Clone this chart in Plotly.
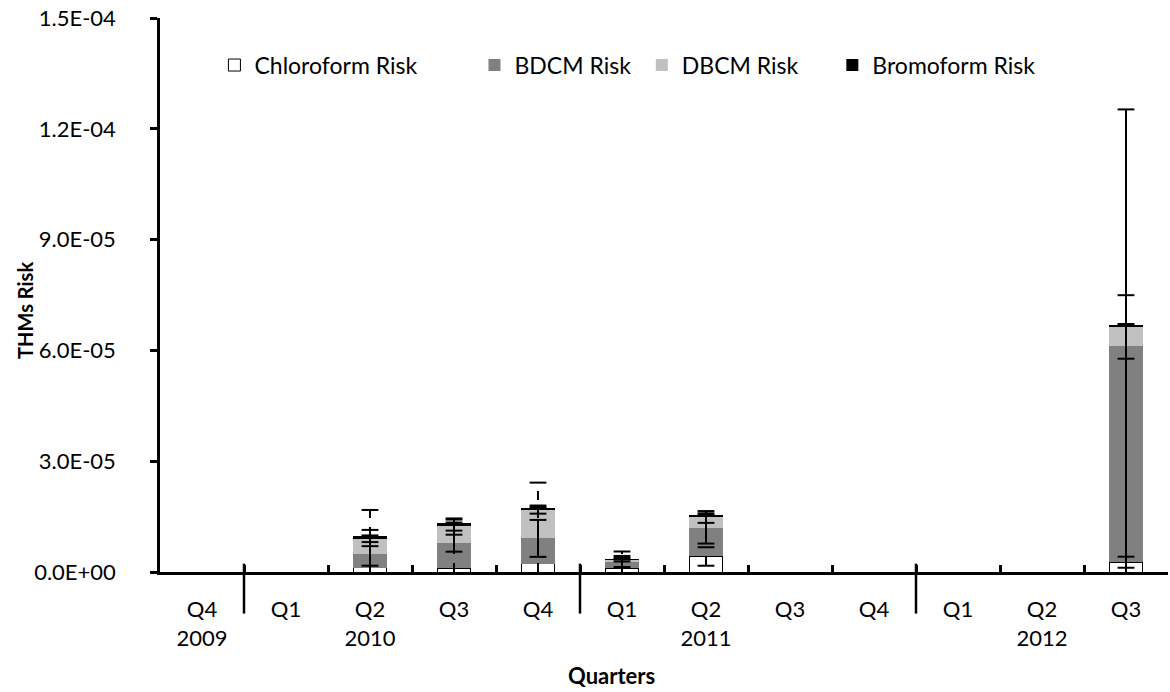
import numpy as np
import plotly.graph_objects as go

# Quarterly THM cancer-risk components (stacked), with error magnitudes
quarters = ["Q4", "Q1", "Q2", "Q3", "Q4", "Q1", "Q2", "Q3", "Q4", "Q1", "Q2", "Q3"]
years = ["2009", "", "2010", "", "", "", "2011", "", "", "", "2012", ""]

chloroform = [None, None, 1.1e-6, 1.0e-6, 2.3e-6, 0.95e-6, 4.2e-6, None, None, None, None, 2.65e-6]
bdcm = [None, None, 3.8e-6, 6.8e-6, 6.8e-6, 1.9e-6, 7.6e-6, None, None, None, None, 5.86e-5]
dbcm = [None, None, 4.3e-6, 4.9e-6, 7.8e-6, 0.5e-6, 3.1e-6, None, None, None, None, 5.1e-6]
bromoform = [None, None, 0.5e-6, 0.5e-6, 0.5e-6, 0.15e-6, 0.5e-6, None, None, None, None, 0.6e-6]

chloroform_err = [None, None, 1.57e-5, 1.35e-5, 2.19e-5, 4.6e-6, 2.5e-6, None, None, None, None, 1.5e-6]
bdcm_err = [None, None, 3.2e-6, 2.3e-6, 5.0e-6, 1.5e-6, 4.1e-6, None, None, None, None, 6.4e-5]
dbcm_err = [None, None, 2.2e-6, 1.5e-6, 1.1e-6, 0.5e-6, 1.6e-6, None, None, None, None, 8.6e-6]
bromoform_err = [None, None, 2e-7, 2e-7, 2e-7, 1e-7, 2e-7, None, None, None, None, 2e-7]

y_tickvals = [0, 3e-5, 6e-5, 9e-5, 1.2e-4, 1.5e-4]
y_ticktext = ["0.0E+00", "3.0E-05", "6.0E-05", "9.0E-05", "1.2E-04", "1.5E-04"]

FONT = "Lato"
x = np.arange(len(quarters))
tick_text = [q if not y else f"{q}<br>{y}" for q, y in zip(quarters, years)]

series = [
    ("Chloroform Risk", chloroform, chloroform_err, "white", "dash"),
    ("BDCM Risk", bdcm, bdcm_err, "#808080", "solid"),
    ("DBCM Risk", dbcm, dbcm_err, "#c0c0c0", "solid"),
    ("Bromoform Risk", bromoform, bromoform_err, "#000000", "solid"),
]
legend_x = [0.054, 0.312, 0.478, 0.667]

fig = go.Figure()
for k, (name, vals, _, color, _) in enumerate(series):
    lg = "legend" if k == 0 else f"legend{k + 1}"
    fig.add_trace(go.Bar(
        x=x, y=vals, name=name, width=0.4,
        marker=dict(color=color,
                    line=dict(color="black", width=1 if color == "white" else 0)),
        legend=lg,
    ))

# Error whiskers drawn at the top of each stacked segment
base = np.zeros(len(quarters))
for name, vals, errs, color, dash in series:
    v = np.array([np.nan if a is None else a for a in vals], dtype=float)
    e = np.array([np.nan if a is None else a for a in errs], dtype=float)
    top = base + np.nan_to_num(v)
    lx, ly, cx, cy = [], [], [], []
    for i in range(len(quarters)):
        if np.isnan(v[i]):
            continue
        hi = top[i] + e[i]
        lo = max(top[i] - e[i], 0.0)
        lx += [x[i], x[i], None]
        ly += [lo, hi, None]
        cx.append(x[i]); cy.append(hi)
        if lo > 0:
            cx.append(x[i]); cy.append(lo)
    fig.add_trace(go.Scatter(x=lx, y=ly, mode="lines", showlegend=False,
                             line=dict(color="black", width=2, dash=dash),
                             hoverinfo="skip"))
    fig.add_trace(go.Scatter(x=cx, y=cy, mode="markers", showlegend=False,
                             marker=dict(symbol="line-ew", size=12,
                                         line=dict(color="black", width=2)),
                             hoverinfo="skip"))
    base = top

# Year separators at the start of each new year
shapes = []
for i, q in enumerate(quarters):
    if q == "Q1" and i > 0:
        shapes.append(dict(type="line", xref="x", yref="paper", x0=i - 0.5, x1=i - 0.5,
                           y0=0.015, y1=-0.075, line=dict(color="black", width=2.5)))

layout_legends = {}
for k, lx0 in enumerate(legend_x):
    key = "legend" if k == 0 else f"legend{k + 1}"
    layout_legends[key] = dict(x=lx0, y=0.915, xanchor="left", yanchor="middle",
                               orientation="h", bgcolor="rgba(0,0,0,0)",
                               font=dict(family=FONT, size=23, color="black"))

fig.update_layout(
    width=1170, height=692,
    margin=dict(l=160, r=2, t=18, b=120),
    paper_bgcolor="white", plot_bgcolor="white",
    barmode="stack", bargap=0.6,
    font=dict(family=FONT, color="black"),
    shapes=shapes,
    annotations=[
        dict(text="<b>Quarters</b>", xref="paper", yref="paper", x=0.448, y=-0.186,
             showarrow=False, font=dict(family=FONT, size=22, color="black"),
             xanchor="center", yanchor="middle"),
        dict(text="<b>THMs Risk</b>", xref="paper", yref="paper", x=-0.134, y=0.473,
             showarrow=False, textangle=-90, font=dict(family=FONT, size=20, color="black"),
             xanchor="center", yanchor="middle"),
    ],
    **layout_legends,
)

fig.update_xaxes(
    range=[-0.5, len(quarters) - 0.5], showline=True, linecolor="black", linewidth=2.5,
    showgrid=False, zeroline=False, tickmode="array", tickvals=x, ticktext=tick_text,
    ticks="", ticklabelstandoff=16, tickfont=dict(family=FONT, size=22, color="black"),
    minor=dict(tickmode="array", tickvals=[i + 0.5 for i in range(len(quarters) - 1)],
               ticks="inside", ticklen=7, tickwidth=2.5, tickcolor="black", showgrid=False),
)
fig.update_yaxes(
    range=[0, 1.5e-4], showline=True, linecolor="black", linewidth=2.5,
    showgrid=False, zeroline=False, tickmode="array", tickvals=y_tickvals, ticktext=y_ticktext,
    ticks="outside", ticklen=7, tickwidth=2.5, tickcolor="black", ticklabelstandoff=30,
    tickfont=dict(family=FONT, size=22, color="black"),
)

fig.write_html("out.html")
